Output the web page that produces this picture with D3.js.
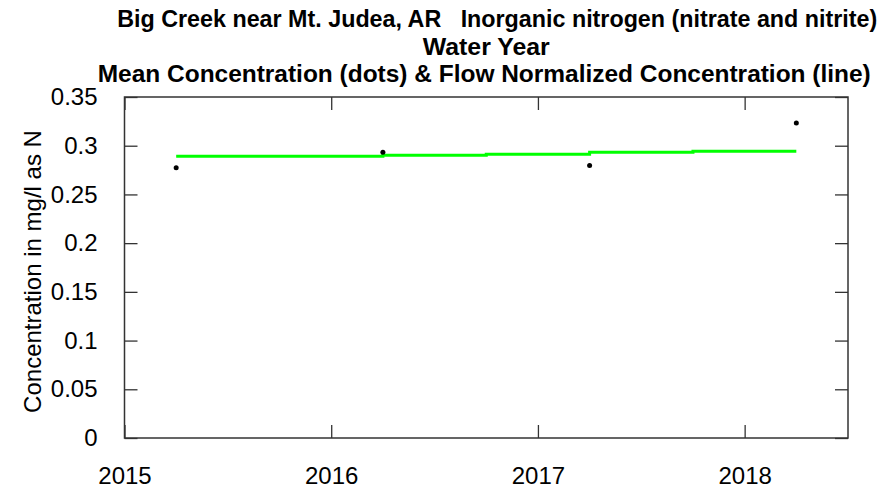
<!DOCTYPE html>
<head>
  <meta charset="utf-8">
  <script src="https://d3js.org/d3.v7.min.js"></script>
  <style>
body { margin: 0; background: #fff; }
svg { display: block; font-family: Arial, "Liberation Sans", sans-serif; }
text.title { white-space: pre; }
  </style>
</head>
<body>
<svg width="892" height="489"></svg>
<script>
// water year means (dots)
var years = [2015.25, 2016.25, 2017.25, 2018.25];
var meanConc = [0.2773, 0.2933, 0.2797, 0.3234];
// flow normalized concentration (line)
var fnYears = [2015.25, 2016.25, 2016.75, 2017.25, 2017.75, 2018.25];
var fnConc = [0.2893, 0.2903, 0.2913, 0.2932, 0.2944, 0.2944];

var xTicks = [2015, 2016, 2017, 2018];
var yTicks = [0, 0.05, 0.1, 0.15, 0.2, 0.25, 0.3, 0.35];
var titles = ["Big Creek near Mt. Judea, AR   Inorganic nitrogen (nitrate and nitrite)",
              "Water Year",
              "Mean Concentration (dots) & Flow Normalized Concentration (line)"];

var margin = {top: 97, right: 44, bottom: 51, left: 124.5};
var width = 892 - margin.left - margin.right;
var height = 489 - margin.top - margin.bottom;

var svg = d3.select("svg");
var g = svg.append("g")
    .attr("transform", "translate(" + margin.left + "," + margin.top + ")");

var x = d3.scaleLinear().domain([2015, 2018.5]).range([0, width]);
var y = d3.scaleLinear().domain([0, 0.35]).range([height, 0]);

var fmt = function(d) { return String(+d.toFixed(2)); };

function styleAxis(sel) {
  sel.select(".domain").remove();
  sel.selectAll(".tick line").attr("stroke", "#333").attr("stroke-width", 1.3);
  sel.selectAll(".tick text").attr("fill", "#000").attr("font-size", 24);
}

g.append("g")
    .attr("transform", "translate(0," + height + ")")
    .call(d3.axisBottom(x).tickValues(xTicks).tickFormat(d3.format("d"))
      .tickSizeInner(-13).tickPadding(29))
    .call(styleAxis);

g.append("g")
    .call(d3.axisTop(x).tickValues(xTicks).tickFormat("").tickSizeInner(-13))
    .call(styleAxis);

g.append("g")
    .call(d3.axisLeft(y).tickValues(yTicks).tickFormat(fmt)
      .tickSizeInner(-13).tickPadding(27))
    .call(styleAxis);

g.append("g")
    .attr("transform", "translate(" + width + ",0)")
    .call(d3.axisRight(y).tickValues(yTicks).tickFormat("").tickSizeInner(-13))
    .call(styleAxis);

g.append("rect")
    .attr("width", width)
    .attr("height", height)
    .attr("fill", "none")
    .attr("stroke", "#333")
    .attr("stroke-width", 1.5);

var line = d3.line()
    .x(function(d, i) { return x(fnYears[i]); })
    .y(function(d) { return y(d); })
    .curve(d3.curveStepAfter);

g.append("path")
    .datum(fnConc)
    .attr("fill", "none")
    .attr("stroke", "#00ff00")
    .attr("stroke-width", 3)
    .attr("d", line);

g.selectAll("circle")
    .data(meanConc)
  .enter().append("circle")
    .attr("cx", function(d, i) { return x(years[i]); })
    .attr("cy", function(d) { return y(d); })
    .attr("r", 2.5)
    .attr("fill", "#000");

// title lines (first line sits a little right of centre in the original)
var titleWidth = [760, 127, 773];
var titleShift = [11, 0, -2];
svg.selectAll("text.title")
    .data(titles)
  .enter().append("text")
    .attr("class", "title")
    .attr("x", function(d, i) { return margin.left + width / 2 + titleShift[i]; })
    .attr("y", function(d, i) { return 27 + i * 27.5; })
    .attr("text-anchor", "middle")
    .attr("font-weight", "bold")
    .attr("font-size", 23.5)
    .attr("textLength", function(d, i) { return titleWidth[i]; })
    .attr("lengthAdjust", "spacingAndGlyphs")
    .text(function(d) { return d; });

svg.append("text")
    .attr("transform", "translate(41," + (margin.top + height / 2 + 4) + ") rotate(-90)")
    .attr("text-anchor", "middle")
    .attr("font-size", 24)
    .text("Concentration in mg/l as N");
</script>
</body>
